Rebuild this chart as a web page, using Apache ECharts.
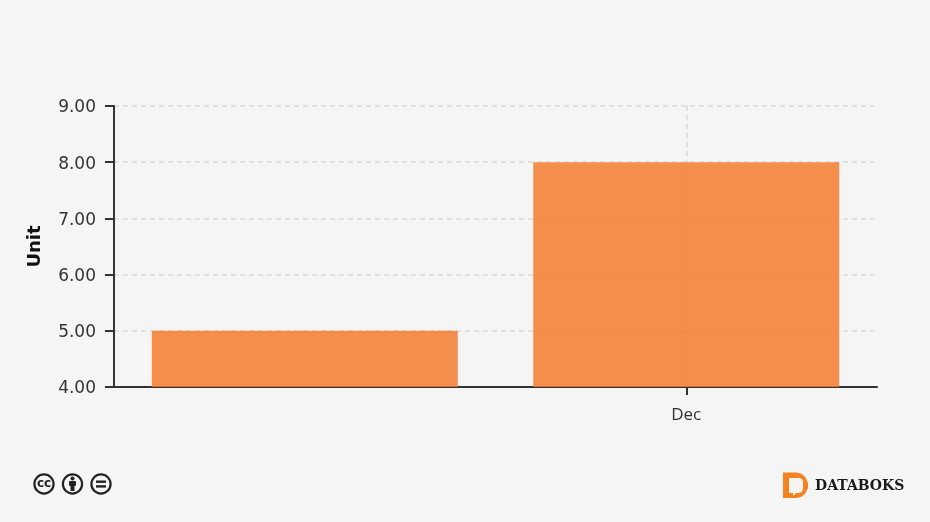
<!DOCTYPE html>
<html>
<head>
<meta charset="utf-8">
<style>
html,body{margin:0;padding:0;background:#f5f5f5;}
#chart{width:930px;height:522px;}
</style>
<script src="https://cdn.jsdelivr.net/npm/echarts@6/dist/echarts.min.js"></script>
</head>
<body>
<div id="chart"></div>
<script>
var categories = ['', 'Dec'];
var values = [5, 8];
var yTicks = [4, 9];

var myChart = echarts.init(document.getElementById('chart'));

// only the labelled category gets a tick and a vertical grid line
function onlyNamed(i, name) {
	return name !== '';
}

// cc badges bottom left
function ccRing(cx) {
	return {
		type: 'circle',
		shape: { cx: cx, cy: 484, r: 9.6 },
		style: { fill: 'none', stroke: '#222', lineWidth: 2.2 }
	};
}

var options = {
	backgroundColor: '#f5f5f5',
	animation: false,
	grid: { left: 114, right: 53, top: 106, bottom: 135 },
	xAxis: {
		type: 'category',
		data: categories,
		axisLine: { lineStyle: { color: '#333', width: 2 } },
		axisTick: { show: true, length: 8, alignWithLabel: true, interval: onlyNamed, lineStyle: { color: '#333', width: 2 } },
		axisLabel: { interval: 0, margin: 20, fontFamily: 'Open Sans', fontSize: 17, color: '#333' },
		splitLine: { show: true, alignWithLabel: true, interval: onlyNamed, lineStyle: { color: '#e0e0e0', type: [5, 4], width: 2 } }
	},
	yAxis: {
		type: 'value',
		min: yTicks[0],
		max: yTicks[1],
		interval: 1,
		name: 'Unit',
		nameLocation: 'middle',
		nameGap: 70,
		nameTextStyle: { fontFamily: 'DejaVu Sans', fontSize: 18, fontWeight: 'bold', color: '#111' },
		axisLine: { show: true, lineStyle: { color: '#333', width: 2 } },
		axisTick: { show: true, length: 9, lineStyle: { color: '#333', width: 2 } },
		axisLabel: {
			margin: 18,
			fontFamily: 'DejaVu Sans',
			fontSize: 17,
			color: '#333',
			verticalAlign: 'top',
			lineHeight: 4,
			formatter: function (v) { return v.toFixed(2); }
		},
		splitLine: { show: true, lineStyle: { color: '#e0e0e0', type: [5, 4], width: 2 } }
	},
	series: [{
		type: 'bar',
		data: values,
		barWidth: '80.2%',
		itemStyle: { color: '#f47a2e', opacity: 0.85 }
	}],
	graphic: [
		ccRing(44),
		{ type: 'text', style: { x: 44, y: 483.5, text: 'cc', align: 'center', verticalAlign: 'middle', fontFamily: 'DejaVu Sans', fontWeight: 'bold', fontSize: 12, fill: '#222' } },
		ccRing(72.5),
		{ type: 'circle', shape: { cx: 72.5, cy: 478.5, r: 2 }, style: { fill: '#222' } },
		{ type: 'rect', shape: { x: 69, y: 481, width: 7, height: 5, r: 1 }, style: { fill: '#222' } },
		{ type: 'rect', shape: { x: 70.5, y: 485, width: 4, height: 6 }, style: { fill: '#222' } },
		ccRing(101),
		{ type: 'rect', shape: { x: 96, y: 480.5, width: 10, height: 2.4 }, style: { fill: '#222' } },
		{ type: 'rect', shape: { x: 96, y: 485.2, width: 10, height: 2.4 }, style: { fill: '#222' } },
		// databoks logo
		{
			type: 'polygon',
			shape: { points: [[783, 472.5], [797, 472.5], [802, 474], [805.5, 477.5], [808, 483], [808, 488], [805.5, 493], [802, 496.5], [797, 498], [783, 498]] },
			style: { fill: '#f58220' }
		},
		{
			type: 'polygon',
			shape: { points: [[789, 478], [800, 478], [802.5, 479.5], [803, 482], [803, 489], [802, 492], [799, 493], [796, 493], [793, 496], [793, 493], [789, 493]] },
			style: { fill: '#f7f3ee' }
		},
		{ type: 'text', style: { x: 815, y: 486, text: 'DATABOKS', verticalAlign: 'middle', fontFamily: 'DejaVu Serif', fontWeight: 'bold', fontSize: 14, fill: '#1a1a1a' } }
	]
};
myChart.setOption(options);
</script>
</body>
</html>
